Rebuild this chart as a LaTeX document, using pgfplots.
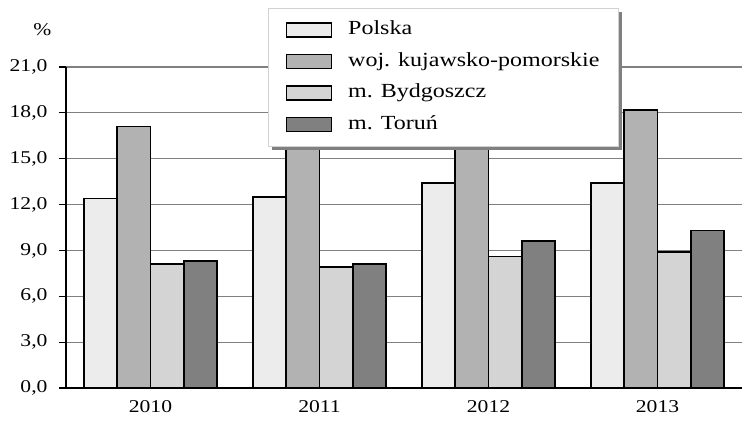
\documentclass[border=0pt]{standalone}
\usepackage{fontspec}
\setmainfont{Liberation Serif}[FakeStretch=1.2]
\usepackage{pgfplots}
\pgfplotsset{compat=1.18}
\definecolor{cPol}{HTML}{ECECEC}
\definecolor{cWoj}{HTML}{B2B2B2}
\definecolor{cByd}{HTML}{D4D4D4}
\definecolor{cTor}{HTML}{808080}
\begin{document}
\begin{tikzpicture}
\useasboundingbox (-66pt,-36pt) rectangle (676pt,388pt);
\begin{axis}[
  scale only axis, width=676pt, height=321pt,
  xmin=-0.5, xmax=3.5, ymin=0, ymax=21,
  ybar=0pt, bar width=33.3pt,
  xtick={0,1,2,3}, xticklabels={2010,2011,2012,2013},
  ytick={0,3,...,21},
  axis x line*=bottom, axis y line*=left,
  axis line style={line width=1.6pt, -},
  ymajorgrids, grid style={gray, line width=1.2pt},
  major tick length=7pt, tick align=outside,
  ytick style={black, line width=1.2pt},
  xtick style={draw=none},
  ticklabel style={font=\fontsize{18}{20}\selectfont},
  /pgf/number format/assume math mode=true,
  yticklabel style={xshift=-8pt, /pgf/number format/.cd, fixed, fixed zerofill, precision=1, use comma},
  xticklabel style={yshift=-2pt},
  ylabel={\%}, ylabel style={rotate=-90, at={(axis description cs:-0.035,1.115)}, anchor=center, font=\fontsize{18}{20}\selectfont},
  legend cell align=left,
  legend style={name=leg, at={(0.299,1.184)}, anchor=north west, draw=gray!35, line width=1pt, fill=white,
    font=\fontsize{20}{24}\selectfont, row sep=0pt, inner xsep=17pt, inner ysep=6pt,
    nodes={text height=14pt, text depth=4.5pt, inner ysep=6.5pt},
    /tikz/every odd column/.append style={column sep=14pt}},
  mybar/.style={draw=black, line width=1.6pt,
    legend image code/.code={\draw[##1, line width=1.6pt] (0pt,-7pt) rectangle (45pt,7pt);}},
]
\addplot[mybar, fill=cPol] coordinates {(0,12.4) (1,12.5) (2,13.4) (3,13.4)};
\addplot[mybar, fill=cWoj] coordinates {(0,17.1) (1,17.0) (2,18.2) (3,18.2)};
\addplot[mybar, fill=cByd] coordinates {(0,8.1) (1,7.9) (2,8.6) (3,8.9)};
\addplot[mybar, fill=cTor] coordinates {(0,8.3) (1,8.1) (2,9.6) (3,10.3)};
\legend{Polska, woj. kujawsko-pomorskie, m. Bydgoszcz, m. Toruń}
\end{axis}
\draw[gray, line width=2.5pt] ([xshift=1.5pt, yshift=-4pt]leg.north east) -- ([xshift=1.5pt, yshift=-1.5pt]leg.south east) -- ([xshift=4pt, yshift=-1.5pt]leg.south west);
\end{tikzpicture}
\end{document}
